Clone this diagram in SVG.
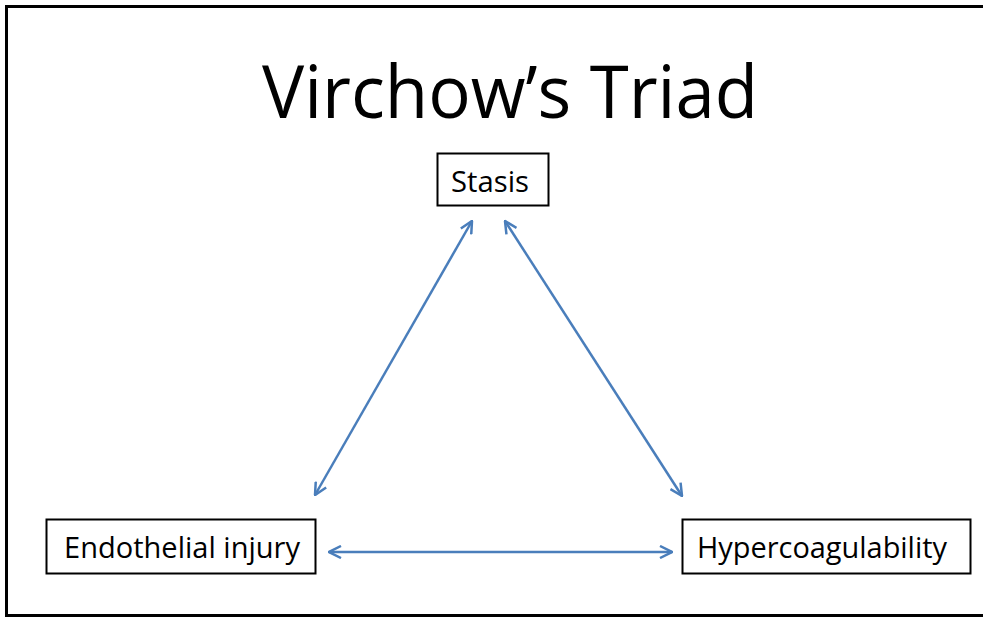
<svg xmlns="http://www.w3.org/2000/svg" width="983" height="620" viewBox="0 0 983 620">
<style>
.box{fill:#fff;stroke:#000;stroke-width:2}
.lbl{font-family:"Open Sans","Noto Sans","Liberation Sans",sans-serif;font-size:29px;fill:#000;text-anchor:middle}
.title{font-family:"Open Sans","Noto Sans","Liberation Sans",sans-serif;font-size:74px;fill:#000;text-anchor:middle}
.conn{stroke:#4a7ebb;stroke-width:2.5;fill:none;marker-start:url(#ah);marker-end:url(#ah)}
</style>
<defs>
<marker id="ah" viewBox="0 0 14 14" refX="13" refY="7" markerWidth="14" markerHeight="14" markerUnits="userSpaceOnUse" orient="auto-start-reverse">
<path d="M1,1 L13,7 L1,13" fill="none" stroke="#4a7ebb" stroke-width="2.5"/>
</marker>
</defs>
<rect width="983" height="620" fill="#fff"/>
<path d="M990,6.5 H6.5 V615.5 H990" fill="none" stroke="#000" stroke-width="3"/>
<text class="title" x="510" y="118" textLength="496" lengthAdjust="spacingAndGlyphs">Virchow’s Triad</text>
<g id="stasis"><rect class="box" x="437.5" y="153.5" width="111" height="52"/><text class="lbl" x="490" y="192" textLength="78" lengthAdjust="spacingAndGlyphs">Stasis</text></g>
<g id="endothelial"><rect class="box" x="46.5" y="519.5" width="269" height="54"/><text class="lbl" x="182" y="558" textLength="236" lengthAdjust="spacingAndGlyphs">Endothelial injury</text></g>
<g id="hypercoagulability"><rect class="box" x="682.5" y="519.5" width="288" height="54"/><text class="lbl" x="822" y="558" textLength="250" lengthAdjust="spacingAndGlyphs">Hypercoagulability</text></g>
<g id="connectors">
<line class="conn" x1="472" y1="221" x2="315" y2="495"/>
<line class="conn" x1="505" y1="221" x2="682" y2="496"/>
<line class="conn" x1="329" y1="552" x2="672" y2="552"/>
</g>
</svg>
